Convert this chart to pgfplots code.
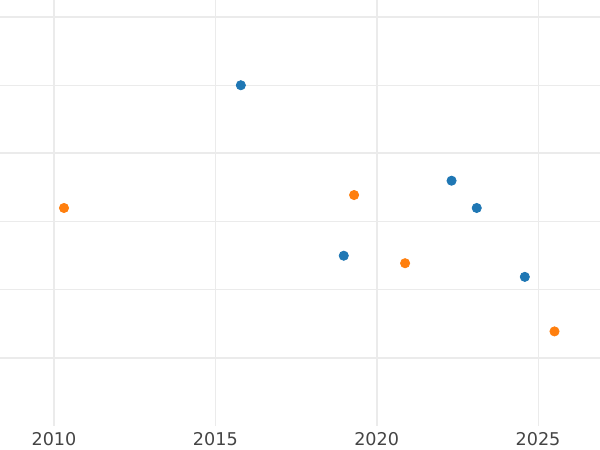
\documentclass[border=0pt]{standalone}
\usepackage{pgfplots}
\pgfplotsset{compat=1.18}
\usepackage{fontspec}
\setmainfont{DejaVu Sans}
\definecolor{cblue}{HTML}{1F77B4}
\definecolor{corange}{HTML}{FF7F0E}
\definecolor{gridc}{HTML}{EBEBEB}
\definecolor{labc}{HTML}{444444}
\begin{document}
\begin{tikzpicture}
\begin{axis}[
  at={(0pt,11.9pt)}, anchor=south west,
  scale only axis, width=300pt, height=213.1pt,
  xmin=2008.327, xmax=2026.92, ymin=-1, ymax=5.25,
  axis line style={draw=none},
  major tick length=0pt, minor tick length=0pt,
  xtick={2010,2020}, extra x ticks={2015,2025},
  extra x tick style={major grid style={draw=gridc, line width=0.5pt}},
  ytick={0,3,5}, extra y ticks={1,2,4},
  extra y tick style={major grid style={draw=gridc, line width=0.5pt}, yticklabel=\empty},
  yticklabel=\empty,
  grid=major,
  major grid style={draw=gridc, line width=1pt},
  xticklabel style={font=\fontsize{8.8}{10}\selectfont, text=labc, anchor=north, yshift=0.6pt},
  /pgf/number format/assume math mode=true,
  /pgf/number format/1000 sep={},
  clip=false,
]
\addplot[only marks, mark=*, mark size=2.3pt, color=cblue, mark options={draw=cblue, fill=cblue}] coordinates {
(2015.79,4.0) (2018.98,1.50) (2022.32,2.60) (2023.10,2.20) (2024.59,1.19)
};
\addplot[only marks, mark=*, mark size=2.3pt, color=corange, mark options={draw=corange, fill=corange}] coordinates {
(2010.31,2.20) (2019.30,2.39) (2020.88,1.39) (2025.51,0.39)
};
\end{axis}
\pgfresetboundingbox
\path[use as bounding box] (0pt,0pt) rectangle (300pt,225pt);
\end{tikzpicture}
\end{document}
